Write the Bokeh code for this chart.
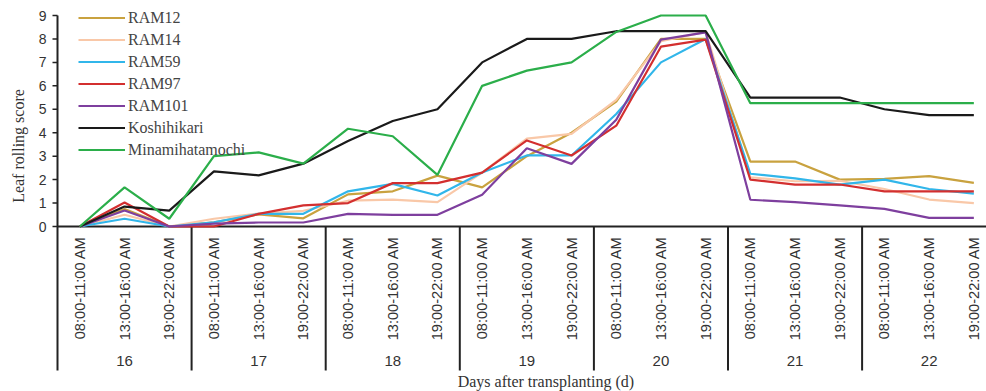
import math
from bokeh.plotting import figure
from bokeh.models import Range1d, Legend, LegendItem
from bokeh.core.properties import value
from bokeh.embed import file_html
from bokeh.resources import INLINE

# ---------------- data ----------------
days = ["16", "17", "18", "19", "20", "21", "22"]
times = ["08:00-11:00 AM", "13:00-16:00 AM", "19:00-22:00 AM"]

ram12 = [0, 0.75, 0, 0.18, 0.52, 0.35, 1.37, 1.5, 2.17, 1.67, 3.0, 4.0, 5.33, 8.0, 8.0,
         2.77, 2.77, 2.0, 2.03, 2.15, 1.86]
ram14 = [0, 0.5, 0, 0.33, 0.55, 0.67, 1.1, 1.15, 1.04, 2.3, 3.75, 3.95, 5.4, 7.9, 8.3,
         2.1, 1.93, 1.95, 1.6, 1.15, 1.0]
ram59 = [0, 0.33, 0, 0.18, 0.54, 0.54, 1.5, 1.82, 1.32, 2.3, 3.03, 3.03, 4.8, 7.0, 8.0,
         2.25, 2.05, 1.79, 2.0, 1.6, 1.4]
ram97 = [0, 1.02, 0, 0, 0.54, 0.9, 1.0, 1.85, 1.85, 2.3, 3.67, 3.03, 4.3, 7.67, 7.97,
         2.0, 1.79, 1.79, 1.5, 1.5, 1.5]
ram101 = [0, 0.68, 0, 0.12, 0.17, 0.17, 0.54, 0.5, 0.5, 1.35, 3.34, 2.67, 4.55, 7.97, 8.28,
          1.14, 1.04, 0.9, 0.75, 0.37, 0.37]
koshihikari = [0, 0.85, 0.68, 2.35, 2.18, 2.68, 3.65, 4.5, 5.0, 7.0, 8.0, 8.0, 8.33, 8.33, 8.33,
               5.5, 5.5, 5.5, 5.0, 4.75, 4.75]
minamihatamochi = [0, 1.67, 0.33, 3.0, 3.16, 2.68, 4.17, 3.85, 2.2, 6.0, 6.65, 7.0, 8.3, 9.0, 9.0,
                   5.26, 5.26, 5.26, 5.26, 5.26, 5.26]

series_names = ["RAM12", "RAM14", "RAM59", "RAM97", "RAM101", "Koshihikari", "Minamihatamochi"]
series_values = [ram12, ram14, ram59, ram97, ram101, koshihikari, minamihatamochi]
series_colors = ["#C9A23F", "#F9C8A8", "#31B6EA", "#D32F2F", "#7E3F9E", "#1A1A1A", "#2BAE4A"]

y_ticks = [0, 1, 2, 3, 4, 5, 6, 7, 8, 9]
y_title = "Leaf rolling score"
x_title = "Days after transplanting (d)"

# ---------------- layout (pixels) ----------------
W, H = 986, 391
px_x = 44.7          # pixels per category
px_y = 23.444        # pixels per score unit
left_px, zero_px = 57, 226
sep_bottom_px = 370

x_start = -0.5 - left_px / px_x
x_end = -0.5 + (W - left_px) / px_x
y_end = zero_px / px_y
y_start = -(H - zero_px) / px_y
sep_bottom = -(sep_bottom_px - zero_px) / px_y

n = len(days) * len(times)
xs = list(range(n))
axis_x = -0.5

p = figure(width=W, height=H, output_backend="svg", toolbar_location=None,
           x_range=Range1d(x_start, x_end), y_range=Range1d(y_start, y_end),
           min_border=0)
p.outline_line_color = None
p.xgrid.visible = False
p.ygrid.visible = False
p.xaxis.visible = False
p.yaxis.visible = False
p.background_fill_color = "white"
p.border_fill_color = "white"

axis_col = "#222222"
text_col = "#333333"

# y axis line (continues down as the first day separator)
p.segment(x0=[axis_x], y0=[sep_bottom], x1=[axis_x], y1=[y_ticks[-1]],
          line_color=axis_col, line_width=2)
# y ticks
tick_len = 5 / px_x
p.segment(x0=[axis_x - tick_len] * len(y_ticks), y0=y_ticks,
          x1=[axis_x] * len(y_ticks), y1=y_ticks, line_color=axis_col, line_width=1.5)
p.text(x=[axis_x] * len(y_ticks), y=y_ticks, text=[str(t) for t in y_ticks],
       x_offset=-11, text_align="right", text_baseline="middle",
       text_font=value("Liberation Sans"), text_font_size="14px", text_color=text_col)

# x axis line at y = 0
p.segment(x0=[axis_x], y0=[0], x1=[x_end], y1=[0], line_color=axis_col, line_width=2)

# day separators
sep_x = [d * len(times) - 0.5 for d in range(1, len(days))]
p.segment(x0=sep_x, y0=[0] * len(sep_x), x1=sep_x, y1=[sep_bottom] * len(sep_x),
          line_color=axis_col, line_width=2)

# time labels
time_labels = [t for _ in days for t in times]
p.text(x=xs, y=[0] * n, text=time_labels, angle=math.pi / 2, text_align="right",
       text_baseline="middle", y_offset=10, text_font=value("Liberation Sans"),
       text_font_size="14.6px", text_color=text_col)

# day labels
day_x = [d * len(times) + 1 for d in range(len(days))]
p.text(x=day_x, y=[0] * len(days), text=days, text_align="center",
       text_baseline="middle", y_offset=134, text_font=value("Liberation Sans"),
       text_font_size="15px", text_color=text_col)

# axis titles
p.text(x=[axis_x], y=[y_ticks[-1] / 2], text=[y_title], angle=math.pi / 2,
       x_offset=-39, y_offset=25, text_align="center", text_baseline="middle",
       text_font=value("Liberation Serif"), text_font_size="16px", text_color=text_col)
p.text(x=[(n - 1) / 2], y=[0], text=[x_title], x_offset=19, y_offset=155,
       text_align="center", text_baseline="middle",
       text_font=value("Liberation Serif"), text_font_size="16px", text_color=text_col)

# series lines
items = []
for name, vals, col in zip(series_names, series_values, series_colors):
    r = p.line(x=xs, y=vals, line_color=col, line_width=2.2)
    items.append(LegendItem(label=name, renderers=[r]))

legend = Legend(items=items, location=(78, 231), padding=0, spacing=1,
                glyph_width=47, glyph_height=21, label_height=21, label_standoff=3,
                label_text_font="Liberation Serif", label_text_font_size="16px",
                label_text_color="#444444", border_line_color=None,
                background_fill_alpha=0)
p.add_layout(legend)

open("out.html", "w").write(file_html(p, INLINE))
